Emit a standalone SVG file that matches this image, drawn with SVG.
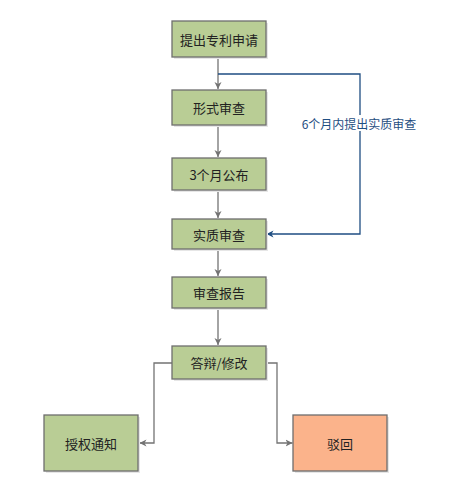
<svg xmlns="http://www.w3.org/2000/svg" width="456" height="501" viewBox="0 0 456 501">
<style>
.sh{fill:#e6e6e6;}
.g{fill:#b9cd95;stroke:#6e6e6e;stroke-width:1.3;}
.o{fill:#fbb38b;stroke:#6e6e6e;stroke-width:1.3;}
.t{font-family:"Noto Sans CJK SC","Liberation Sans",sans-serif;font-size:13px;fill:#222;text-anchor:middle;dominant-baseline:central;}
.c{fill:none;stroke:#737373;stroke-width:1.3;}
.b{fill:none;stroke:#1f4e82;stroke-width:1.3;}
.bl{font-family:"Noto Sans CJK SC","Liberation Sans",sans-serif;font-size:12px;fill:#1f4e82;text-anchor:middle;dominant-baseline:central;}
</style>
<defs>
<marker id="ag" markerWidth="8" markerHeight="8" refX="7" refY="4" orient="auto" markerUnits="userSpaceOnUse">
<path d="M0,0.5 L7,4 L0,7.5 L2,4 Z" fill="#737373"/>
</marker>
<marker id="ab" markerWidth="8" markerHeight="8" refX="7" refY="4" orient="auto" markerUnits="userSpaceOnUse">
<path d="M0,0.5 L7,4 L0,7.5 L2,4 Z" fill="#1f4e82"/>
</marker>
</defs>
<g id="connectors">
<line class="c" x1="218" y1="57" x2="218" y2="89" marker-end="url(#ag)"/>
<line class="c" x1="218" y1="125" x2="218" y2="157" marker-end="url(#ag)"/>
<line class="c" x1="218" y1="190" x2="218" y2="218" marker-end="url(#ag)"/>
<line class="c" x1="218" y1="249" x2="218" y2="276" marker-end="url(#ag)"/>
<line class="c" x1="218" y1="308" x2="218" y2="345" marker-end="url(#ag)"/>
<polyline class="c" points="172,363 154,363 154,443 139.5,443" marker-end="url(#ag)"/>
<polyline class="c" points="266,363 277,363 277,443 292.5,443" marker-end="url(#ag)"/>
<polyline class="b" points="218,74 360,74 360,234 266.5,234" marker-end="url(#ab)"/>
<rect x="296" y="115" width="125" height="16" fill="#fff"/>
<text class="bl" x="359" y="123">6个月内提出实质审查</text>
</g>
<g id="n1"><rect class="sh" x="174" y="23" width="94" height="36"/><rect class="g" x="172" y="21" width="94" height="36"/><text class="t" x="219" y="39">提出专利申请</text></g>
<g id="n2"><rect class="sh" x="174" y="92" width="94" height="35"/><rect class="g" x="172" y="90" width="94" height="35"/><text class="t" x="219" y="107.5">形式审查</text></g>
<g id="n3"><rect class="sh" x="174" y="160" width="94" height="32"/><rect class="g" x="172" y="158" width="94" height="32"/><text class="t" x="219" y="174">3个月公布</text></g>
<g id="n4"><rect class="sh" x="174" y="221" width="94" height="30"/><rect class="g" x="172" y="219" width="94" height="30"/><text class="t" x="219" y="234">实质审查</text></g>
<g id="n5"><rect class="sh" x="174" y="279" width="94" height="31"/><rect class="g" x="172" y="277" width="94" height="31"/><text class="t" x="219" y="292.5">审查报告</text></g>
<g id="n6"><rect class="sh" x="174" y="348" width="94" height="33"/><rect class="g" x="172" y="346" width="94" height="33"/><text class="t" x="219" y="362.5">答辩/修改</text></g>
<g id="n7"><rect class="sh" x="46" y="417" width="94" height="56"/><rect class="g" x="44" y="415" width="94" height="56"/><text class="t" x="91" y="443">授权通知</text></g>
<g id="n8"><rect class="sh" x="295" y="417" width="94" height="56"/><rect class="o" x="293" y="415" width="94" height="56"/><text class="t" x="340" y="443">驳回</text></g>
</svg>
